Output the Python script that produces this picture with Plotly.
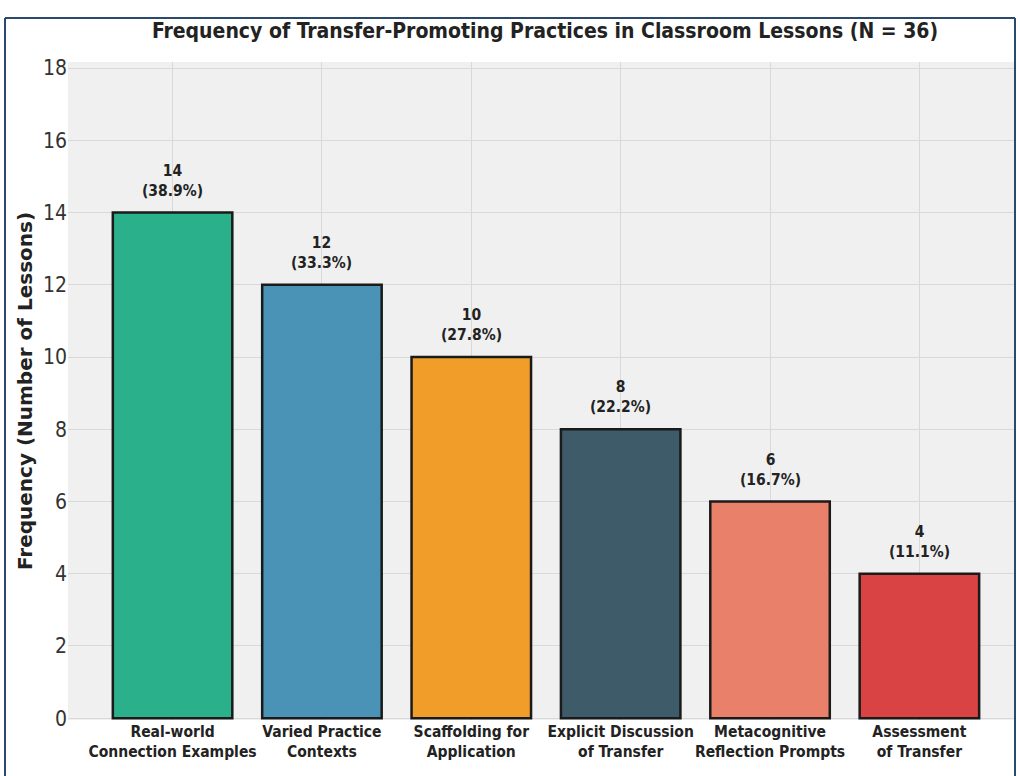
import plotly.graph_objects as go

categories = ["Real-world<br>Connection Examples", "Varied Practice<br>Contexts",
              "Scaffolding for<br>Application", "Explicit Discussion<br>of Transfer",
              "Metacognitive<br>Reflection Prompts", "Assessment<br>of Transfer"]
counts = [14, 12, 10, 8, 6, 4]
total_n = 36
colors = ["#2ab08b", "#4a93b7", "#f19d2a", "#3e5b69", "#e9806a", "#da4343"]
y_ticks = [0, 2, 4, 6, 8, 10, 12, 14, 16, 18]

FONT = "DejaVu Sans Condensed, DejaVu Sans"
W, H = 1020, 776
L, R, T, B = 68, 5, 62, 56

fig = go.Figure()
fig.add_trace(go.Bar(
    x=list(range(len(categories))), y=counts,
    marker=dict(color=colors, line=dict(color="#1a1a1a", width=2.5)),
    width=0.8, hoverinfo="skip"))

for i, v in enumerate(counts):
    fig.add_annotation(x=i, y=v, text=f"<b>{v}<br>({v / total_n * 100:.1f}%)</b>",
                       showarrow=False, yanchor="bottom", yshift=11,
                       font=dict(family=FONT, size=15.5, color="#222222"))

pw = W - L - R
ph = H - T - B
def px(x):
    return (x - L) / pw
def py(y):
    return (H - B - y) / ph

# outer frame
frame = "#2b4a6b"
fig.add_shape(type="line", xref="paper", yref="paper", x0=px(5), x1=px(5), y0=py(18), y1=py(776), line=dict(color=frame, width=2))
fig.add_shape(type="line", xref="paper", yref="paper", x0=px(5), x1=px(1015), y0=py(18), y1=py(18), line=dict(color=frame, width=2))
fig.add_shape(type="line", xref="paper", yref="paper", x0=px(1015), x1=px(1015), y0=py(18), y1=py(776), line=dict(color=frame, width=2))

fig.update_layout(
    width=W, height=H,
    margin=dict(l=L, r=R, t=T, b=B, autoexpand=False),
    paper_bgcolor="white", plot_bgcolor="#f0f0f0",
    showlegend=False,
    title=dict(text="<b>Frequency of Transfer-Promoting Practices in Classroom Lessons (N = 36)</b>",
               x=(545) / W, xanchor="center", y=1 - 31 / H, yanchor="middle",
               font=dict(family=FONT, size=21, color="#222222")),
    xaxis=dict(tickmode="array", tickvals=list(range(len(categories))),
               ticktext=[f"<b>{c}</b>" for c in categories], tickangle=0, automargin=False,
               range=[-0.70, 5.64], showgrid=True, gridcolor="#d9d9d9", gridwidth=1,
               zeroline=False, showline=False, ticks="",
               tickfont=dict(family=FONT, size=15.5, color="#222222")),
    yaxis=dict(range=[-0.05, 18.17], tickmode="array", tickvals=y_ticks, automargin=False,
               showgrid=True, gridcolor="#d9d9d9", gridwidth=1, zeroline=False,
               showline=False, ticks="", ticklen=0,
               tickfont=dict(family=FONT, size=21, color="#333333"),
               title=dict(text="<b>Frequency (Number of Lessons)</b>", standoff=4,
                          font=dict(family="DejaVu Sans", size=20, color="#222222"))),
)

fig.write_html("out.html")
